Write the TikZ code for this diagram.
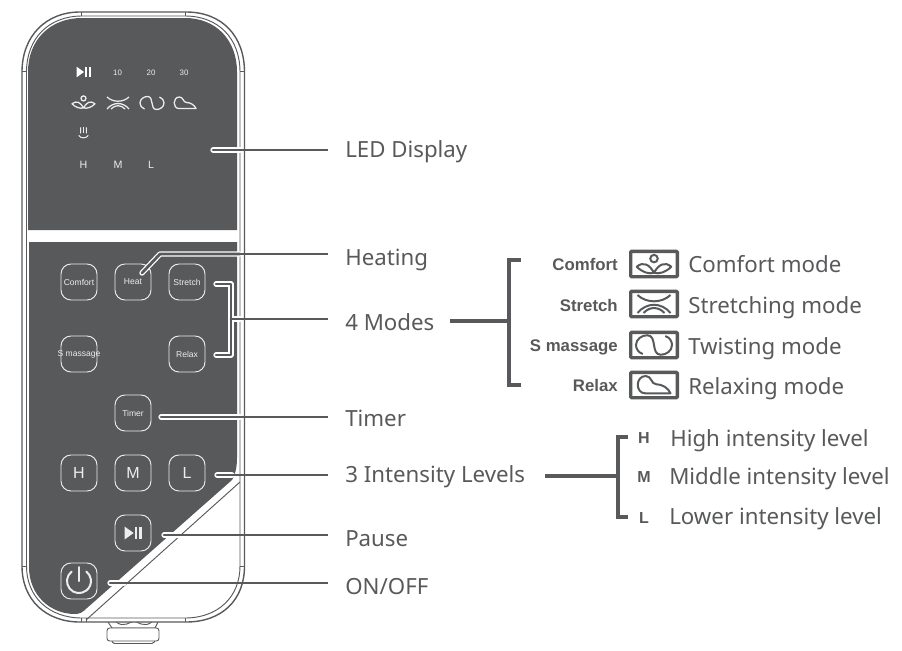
\documentclass[tikz,border=0pt]{standalone}
\usepackage{fontspec}
\setmainfont{Noto Sans}
\setsansfont{Liberation Sans}
\definecolor{panel}{HTML}{58595B}
\definecolor{ink}{HTML}{58595B}
\definecolor{soft}{HTML}{EDEDED}
\tikzset{
  x=0.75pt,y=-0.75pt,
  bodyline/.style={draw=ink,line width=1.05pt},
  thinline/.style={draw=ink,line width=0.7pt},
  panelfill/.style={fill=panel,draw=none},
  btn/.style={draw=soft,line width=0.7pt,rounded corners=7.5pt,minimum width=27pt,minimum height=27pt,inner sep=0pt,text=soft,font=\sffamily\fontsize{6.4}{7}\selectfont},
  btnbig/.style={btn,font=\sffamily\fontsize{12}{13}\selectfont},
  led/.style={text=soft,inner sep=0pt,font=\sffamily\fontsize{5.9}{6}\selectfont},
  ledb/.style={text=soft,inner sep=0pt,font=\sffamily\fontsize{8}{9}\selectfont},
  lab/.style={anchor=base west,inner sep=0pt,text=ink,font=\fontsize{16.7}{18}\selectfont},
  bold/.style={anchor=base east,inner sep=0pt,text=ink,font=\sffamily\bfseries\fontsize{12.6}{14}\selectfont},
  boldc/.style={anchor=base,inner sep=0pt,text=ink,font=\sffamily\bfseries\fontsize{12}{14}\selectfont},
  iconbox/.style={draw=ink,line width=2.5pt,rounded corners=0.8pt,minimum width=35pt,minimum height=19pt,inner sep=0pt},
  halo/.style={draw=white,line width=4pt,line cap=round,line join=round},
  conn/.style={draw=ink,line width=2.1pt,line cap=round,line join=round},
  plain/.style={draw=ink,line width=2.1pt},
  brack/.style={draw=ink,line width=2.5pt,line cap=butt,line join=miter},
  ledicon/.style={draw=soft,line width=0.95pt},
  boxicon/.style={draw=ink,line width=1.5pt,scale=1.5},
  comfort icon/.pic={
    \draw (0,-3.6) circle (2.5);
    \draw[line join=round] (-11.5,1.8) .. controls (-7,-2) and (-3,0.5) .. (0,5.8) .. controls (-3,7) and (-8,5.5) .. cycle;
    \draw[line join=round] (11.5,1.8) .. controls (7,-2) and (3,0.5) .. (0,5.8) .. controls (3,7) and (8,5.5) .. cycle;
  },
  stretch icon/.pic={
    \draw (-11,-6) .. controls (-5,-0.4) and (5,-0.4) .. (11,-6);
    \draw (-11,6) .. controls (-5,-1.3) and (5,-1.3) .. (11,6);
    \draw (-7,6) .. controls (-3,1.6) and (3,1.6) .. (7,6);
  },
  smode icon/.pic={
    \draw (-7.5,6) .. controls (-10.5,5) and (-12,2.5) .. (-12,0) .. controls (-12,-4) and (-8,-6.5) .. (-4.5,-6.5) .. controls (-1,-6.5) and (-0.5,-3) .. (0,0) .. controls (0.5,3) and (1,6.5) .. (4.5,6.5) .. controls (8,6.5) and (12,4) .. (12,0) .. controls (12,-2.5) and (10.5,-5) .. (7.5,-6);
  },
  relax icon/.pic={
    \draw[line join=round] (11,5.5) -- (-6,5.5) .. controls (-12.5,5.5) and (-12.5,-6) .. (-5.5,-6) .. controls (-1.5,-6) and (-2,-0.5) .. (1.5,-0.5) .. controls (5.5,-0.5) and (9.5,2) .. (11,5.5) -- cycle;
  },
  heat icon/.pic={
    \draw (-3,-6) .. controls (-4.5,-4) and (-1.5,-3) .. (-3,0.5);
    \draw (0,-6) .. controls (-1.5,-4) and (1.5,-3) .. (0,0.5);
    \draw (3,-6) .. controls (1.5,-4) and (4.5,-3) .. (3,0.5);
    \draw (-5,2.5) .. controls (-3,6) and (3,6) .. (5,2.5);
  },
  playpause icon/.pic={
    \fill (-7,-5.4) -- (0.5,0) -- (-7,5.4) -- cycle;
    \fill (1.5,-5.4) rectangle (3.7,5.4);
    \fill (5,-5.4) rectangle (7.2,5.4);
  },
  power icon/.pic={
    \draw[line cap=round] (-7.4,-9.4) arc[start angle=232,end angle=-52,radius=12];
    \draw[line cap=round] (0,-14) -- (0,0);
  },
}
\begin{document}
\begin{tikzpicture}
\useasboundingbox (0,0) rectangle (902,650);
% knob
\draw[thinline,fill=white] (108,622) -- (112,628) -- (155,628) -- (158,622);
\draw[thinline] (116,622) .. controls (124,628) and (130,622) .. (134,621) .. controls (138,622) and (144,628) .. (152,622);
\draw[thinline,fill=white,rounded corners=2pt] (107,628) rectangle (159,641);
\draw[thinline,rounded corners=1pt] (112,641) -- (113,643.5) -- (153,643.5) -- (155,641);
% body
\draw[bodyline,fill=white] (80,12) -- (186,12) .. controls (222,12) and (244.5,36) .. (244.5,72) -- (244.5,566) .. controls (244.5,600) and (222,622) .. (186,622) -- (80,622) .. controls (46,622) and (22,600) .. (22,566) -- (22,72) .. controls (22,36) and (46,12) .. (80,12) -- cycle;
\draw[thinline] (82,16) -- (185,16) .. controls (218,16) and (240,38) .. (240,72) -- (240,566) .. controls (240,597) and (218,618) .. (185,618) -- (82,618) .. controls (49,618) and (26.5,597) .. (26.5,566) -- (26.5,72) .. controls (26.5,38) and (49,16) .. (82,16) -- cycle;
\draw[thinline] (81.5,12) -- (81.5,16) (185,12) -- (185,16) (22,71) -- (26.5,71) (240,71) -- (244.5,71) (22,566) -- (26.5,566) (240,566) -- (244.5,566) (81.5,618) -- (81.5,622) (86,618) -- (86,622) (185,618) -- (185,622);
\draw[thinline] (240,482) -- (86,620);
% panels
\path[panelfill] (82,18) -- (185,18) .. controls (216,18) and (237,40) .. (237,72) -- (237,230) -- (28,230) -- (28,72) .. controls (28,40) and (50,18) .. (82,18) -- cycle;
\path[panelfill] (29,242) -- (237,242) -- (237,458) .. controls (237,468) and (235,475) .. (232,480) -- (87,608) .. controls (83,612) and (80,614) .. (75,614) .. controls (50,614) and (29,595) .. (29,567) -- cycle;
% LED row
\pic[white] at (83.5,72) {playpause icon};
\node[led] at (117.5,72.5) {10};
\node[led] at (151,72.5) {20};
\node[led] at (184,72.5) {30};
\pic[ledicon] at (83.5,102) {comfort icon};
\pic[ledicon] at (118,103) {stretch icon};
\pic[ledicon] at (152,103) {smode icon};
\pic[ledicon] at (185,103) {relax icon};
\pic[draw=soft,line width=0.75pt,scale=0.95] at (83.5,133) {heat icon};
\node[ledb] at (83.5,165) {H};
\node[ledb] at (118,165) {M};
\node[ledb] at (151,164.5) {L};
% buttons
\node[btn] (comfort) at (79,282) {Comfort};
\node[btn] (heat) at (133,282) {Heat};
\node[btn] (stretch) at (187,282) {Stretch};
\node[btn] (smassage) at (79,354) {\makebox[0pt]{S massage}};
\node[btn] (relax) at (187,354) {Relax};
\node[btn] (timer) at (133,413) {Timer};
\node[btnbig] (h) at (79,473) {H};
\node[btnbig] (m) at (133,473) {M};
\node[btnbig] (l) at (187,473) {L};
\node[btn] (pause) at (133,533) {};
\node[btn] (power) at (79,581) {};
\pic[soft,scale=1.2] at (133,533) {playpause icon};
\pic[soft,draw=soft,line width=1.5pt] at (79,581) {power icon};
% labels
\node[lab] (tled) at (345,157) {LED Display};
\node[lab] (theat) at (345,265) {Heating};
\node[lab] (tmodes) at (345,330) {4 Modes};
\node[lab] (ttimer) at (345,426) {Timer};
\node[lab] (tint) at (345,482) {3 Intensity Levels};
\node[lab] (tpause) at (345,546) {Pause};
\node[lab] (tonoff) at (345,594) {ON/OFF};
% connector anchors
\coordinate (cled) at (213,150);
\coordinate (cledr) at (328,150);
\coordinate (cheat) at (142,273);
\coordinate (cheatb) at (160,254);
\coordinate (cheatr) at (328,254);
\coordinate (cst) at (216,284);
\coordinate (cre) at (216,355);
\coordinate (cbt) at (231,284);
\coordinate (cbb) at (231,355);
\coordinate (cbm) at (231,319);
\coordinate (cmodr) at (328,319);
\coordinate (ctim) at (161,417);
\coordinate (ctimr) at (328,417);
\coordinate (cl) at (217,475);
\coordinate (clr) at (328,475);
\coordinate (cp) at (164,535);
\coordinate (cpr) at (328,535);
\coordinate (con) at (110,583);
\coordinate (conr) at (328,583);
% connectors: halo on the panel, dark core
\foreach \sty in {halo,conn}{
  \draw[\sty] (cled) -- (240,150);
  \draw[\sty] (cheat) -- (cheatb) -- (240,254);
  \draw[\sty] (cst) -- (cbt) -- (cbb) -- (cre);
  \draw[\sty] (cbm) -- (240,319);
  \draw[\sty] (ctim) -- (240,417);
  \draw[\sty] (cl) -- (232,475);
  \draw[\sty] (cp) -- (179,535);
  \draw[\sty] (con) -- (124,583);
}
\draw[plain] (cled) -- (cledr);
\draw[plain] (cheatb) -- (cheatr);
\draw[plain] (cbm) -- (cmodr);
\draw[plain] (ctim) -- (ctimr);
\draw[plain] (cl) -- (clr);
\draw[plain] (cp) -- (cpr);
\draw[plain] (con) -- (conr);
% mode bracket
\coordinate (mstart) at (450,321);
\coordinate (mj) at (509,321);
\coordinate (mt) at (521,260);
\coordinate (mb) at (521,385);
\draw[brack] (mstart) -- (mj);
\draw[brack] (mt) -- (mt-|mj) -- (mb-|mj) -- (mb);
% intensity bracket
\coordinate (istart) at (545,476);
\coordinate (ij) at (618,476);
\coordinate (it) at (628,437);
\coordinate (ib) at (628,517);
\draw[brack] (istart) -- (ij);
\draw[brack] (it) -- (it-|ij) -- (ib-|ij) -- (ib);
% mode list
\node[bold] at (618,270) {Comfort};
\node[bold] at (618,311) {Stretch};
\node[bold] at (618,351) {S massage};
\node[bold] at (618,391) {Relax};
\node[iconbox] (bc) at (654,264) {};
\node[iconbox] (bs) at (654,304) {};
\node[iconbox] (bm) at (654,345) {};
\node[iconbox] (br) at (654,385) {};
\pic[boxicon] at (bc.center) {comfort icon};
\pic[boxicon] at (bs.center) {stretch icon};
\pic[boxicon] at (bm.center) {smode icon};
\pic[boxicon] at (br.center) {relax icon};
\node[lab] at (688,272) {Comfort mode};
\node[lab] at (688,313) {Stretching mode};
\node[lab] at (688,354) {Twisting mode};
\node[lab] at (688,394) {Relaxing mode};
% intensity list
\node[boldc] at (644,443) {H};
\node[boldc] at (644,482) {M};
\node[boldc] at (644,523) {L};
\node[lab] at (670,446) {High intensity level};
\node[lab] at (669,484) {Middle intensity level};
\node[lab] at (669,524) {Lower intensity level};
\end{tikzpicture}
\end{document}
